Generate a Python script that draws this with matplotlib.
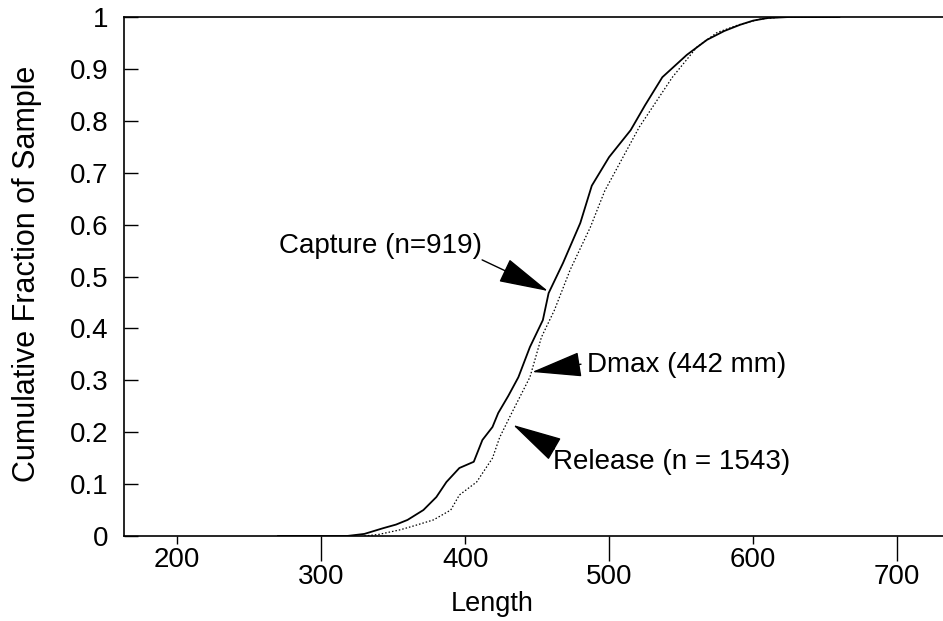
import matplotlib
matplotlib.use('Agg')
import matplotlib.pyplot as plt

plt.rcParams['font.family'] = ['Liberation Sans', 'DejaVu Sans']

# cumulative length distributions
capture_len = [270, 318, 330, 343, 352, 360, 371, 380, 387, 396, 406, 412, 419, 423,
               430, 437, 445, 454, 458, 468, 480, 488, 500, 515, 525, 537, 554, 568,
               580, 591, 600, 610, 625, 660]
capture_frac = [0, 0, 0.004, 0.015, 0.022, 0.031, 0.05, 0.075, 0.104, 0.131, 0.143,
                0.185, 0.21, 0.237, 0.27, 0.306, 0.364, 0.416, 0.468, 0.526, 0.603,
                0.675, 0.73, 0.782, 0.83, 0.884, 0.927, 0.956, 0.973, 0.985, 0.993,
                0.998, 1.0, 1.0]

release_len = [330, 340, 355, 365, 378, 390, 396, 408, 419, 424, 432, 445, 453, 462,
               473, 487, 497, 521, 544, 561, 575, 590, 605, 620, 660]
release_frac = [0, 0.003, 0.012, 0.02, 0.031, 0.05, 0.079, 0.104, 0.15, 0.19, 0.235,
                0.306, 0.383, 0.435, 0.513, 0.595, 0.665, 0.788, 0.884, 0.942, 0.97,
                0.985, 0.996, 1.0, 1.0]

x_short = [200, 400, 600]
x_long = [300, 500, 700]
y_ticks = [0, 0.1, 0.2, 0.3, 0.4, 0.5, 0.6, 0.7, 0.8, 0.9, 1]
y_labels = ['0', '0.1', '0.2', '0.3', '0.4', '0.5', '0.6', '0.7', '0.8', '0.9', '1']

fig = plt.figure(figsize=(9.43, 6.21), dpi=100)
ax = fig.add_axes([0.1315, 0.1369, 0.8685, 0.8357])

ax.plot(capture_len, capture_frac, color='black', lw=1.3)
ax.plot(release_len, release_frac, color='black', lw=0.9, ls=(0, (1.2, 1.6)))

ax.set_xlim(163, 732)
ax.set_ylim(0, 1)

ax.spines['right'].set_visible(False)
for s in ['left', 'bottom', 'top']:
    ax.spines[s].set_linewidth(1.2)

ax.set_yticks(y_ticks, y_labels)
ax.tick_params(axis='y', direction='in', length=10, width=1, pad=11.5, labelsize=20)

# alternate short/long ticks so the labels sit on two rows
ax.set_xticks(x_short, [str(v) for v in x_short])
ax.set_xticks(x_long, [str(v) for v in x_long], minor=True)
ax.tick_params(axis='x', which='major', direction='out', length=6, width=1,
               pad=2, labelsize=20)
ax.tick_params(axis='x', which='minor', direction='out', length=18, width=1,
               pad=2, labelsize=20)

ax.set_xlabel('Length', fontsize=19.5)
ax.xaxis.set_label_coords(0.449, -0.106)
ax.set_ylabel('Cumulative Fraction of Sample', fontsize=22)
ax.yaxis.set_label_coords(-0.100, 0.505)

head = dict(arrowstyle='-|>,head_length=1.6,head_width=0.4', color='black',
            lw=1, mutation_scale=20, shrinkA=0, shrinkB=0)

ax.text(411.8, 0.559, 'Capture (n=919)', fontsize=20, ha='right', va='center')
ax.annotate('', xy=(457.6, 0.472), xytext=(411.8, 0.532), arrowprops=head)

ax.text(484.7, 0.329, 'Dmax (442 mm)', fontsize=20, ha='left', va='center')
ax.annotate('', xy=(446.5, 0.316), xytext=(480.5, 0.331), arrowprops=head)

ax.text(461.0, 0.143, 'Release (n = 1543)', fontsize=20, ha='left', va='center')
ax.annotate('', xy=(433.3, 0.214), xytext=(462.0, 0.168), arrowprops=head)

fig.savefig('out.png', dpi=100)
